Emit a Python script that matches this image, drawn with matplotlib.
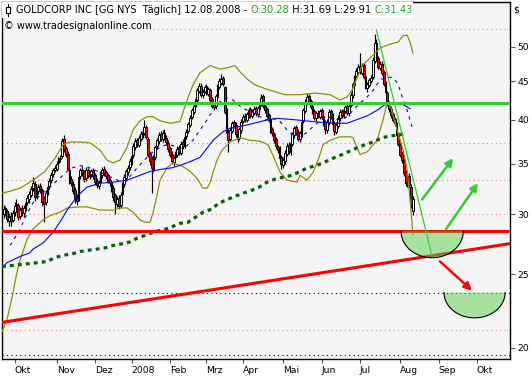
import numpy as np
import matplotlib
matplotlib.use('Agg')
import matplotlib.pyplot as plt
from matplotlib.patches import Rectangle
from matplotlib.ticker import NullLocator

plt.rcParams['font.family'] = ['DejaVu Sans']

# Tageskerzen GOLDCORP (GG), Index 0 = 01.10.2007 (Handelstage)
first_day = -6
opens = [30.0, 30.6, 30.3, 29.4, 29.9, 29.5,
         30.2, 30.7, 30.9, 29.9, 30.6, 30.1, 30.5, 31.2, 31.4, 31.8,
         32.5, 32.9, 31.7, 32.2, 32.7, 32.3, 31.4, 31.2, 32.1, 32.7,
         33.3, 33.9, 34.4, 34.5, 35.1, 35.6, 35.8, 37.7, 36.7, 36.1,
         34.3, 33.4, 32.9, 32.3, 31.6, 31.5, 33.7, 34.4, 34.1, 33.5,
         34.3, 33.7, 33.9, 34.3, 33.8, 33.2, 32.7, 33.1, 33.8, 34.5,
         34.1, 33.8, 33.3, 33.1, 32.5, 31.8, 31.0, 31.5, 30.9, 31.9,
         32.9, 33.5, 34.1, 34.7, 35.2, 35.9, 36.8, 37.6, 37.1, 37.8,
         38.2, 38.5, 39.1, 37.8, 36.1, 35.5, 34.4, 35.7, 36.9, 37.5,
         38.3, 37.7, 38.5, 37.9, 37.3, 36.7, 36.1, 35.2, 35.7, 36.0,
         36.8, 36.2, 37.4, 37.0, 38.1, 38.7, 39.4, 40.4, 41.0, 41.9,
         42.5, 43.7, 44.4, 43.1, 43.7, 44.3, 43.3, 43.8, 42.6, 42.0,
         41.7, 42.9, 44.2, 44.8, 45.4, 44.2, 41.2, 38.6, 37.8, 38.7,
         39.7, 39.4, 38.4, 37.9, 38.8, 39.9, 40.5, 40.0, 40.6, 41.3,
         40.5, 40.9, 41.5, 40.7, 41.4, 42.1, 43.0, 41.7, 41.3, 40.6,
         40.1, 38.9, 38.3, 37.7, 36.8, 36.6, 35.7, 34.9, 35.3, 36.1,
         37.1, 36.3, 37.2, 38.2, 39.1, 38.6, 37.7, 38.3, 39.9, 41.1,
         42.2, 43.0, 42.4, 41.7, 41.1, 40.2, 40.9, 40.4, 41.2, 40.5,
         39.7, 38.8, 39.7, 41.1, 40.5, 39.6, 38.6, 39.3, 40.2, 41.1,
         40.5, 41.1, 41.7, 40.8, 41.9, 43.1, 44.5, 45.7, 46.3, 47.1,
         46.2, 47.3, 45.7, 44.1, 44.5, 45.1, 45.6, 47.9, 50.6, 48.3,
         46.9, 47.5, 46.3, 44.7, 43.4, 42.1, 41.4, 40.7, 40.1, 39.5,
         38.3, 37.1, 36.1, 35.3, 34.1, 32.9, 33.7, 32.6, 30.28]
highs = [30.9, 30.8, 30.5, 30.1, 30.2, 30.4,
         31.2, 31.4, 31.1, 30.7, 30.9, 30.9, 31.4, 31.8, 32.2, 32.7,
         33.6, 33.2, 32.6, 32.9, 33.0, 32.5, 31.7, 32.3, 32.9, 33.5,
         34.1, 34.6, 34.9, 35.3, 35.7, 35.9, 37.9, 38.2, 37.0, 36.4,
         34.5, 33.7, 33.2, 32.6, 31.9, 33.8, 34.6, 34.8, 34.4, 34.7,
         34.6, 34.3, 34.5, 34.6, 34.0, 33.5, 33.3, 34.2, 34.7, 34.8,
         34.3, 34.0, 33.6, 33.3, 32.8, 32.0, 31.7, 31.8, 32.1, 33.1,
         33.9, 34.5, 34.9, 35.6, 36.1, 37.3, 37.9, 37.9, 38.2, 38.7,
         39.0, 40.0, 39.4, 38.0, 36.4, 35.8, 35.9, 37.1, 37.9, 38.6,
         38.7, 38.8, 38.9, 38.2, 37.6, 37.0, 36.4, 35.9, 36.4, 36.9,
         37.1, 37.5, 37.7, 38.3, 38.9, 39.8, 40.6, 41.5, 42.1, 42.9,
         44.1, 44.7, 44.8, 43.9, 44.5, 44.6, 44.2, 44.1, 42.9, 42.3,
         43.3, 44.6, 45.4, 46.0, 45.7, 44.4, 41.5, 38.9, 39.1, 39.9,
         40.0, 39.7, 38.7, 39.2, 40.1, 40.7, 40.8, 41.0, 41.5, 41.6,
         41.3, 41.7, 41.8, 41.8, 42.3, 43.3, 43.3, 42.0, 41.6, 40.9,
         40.3, 39.2, 38.6, 38.0, 37.1, 36.9, 36.0, 35.7, 36.5, 37.3,
         37.4, 37.6, 38.6, 39.3, 39.4, 38.9, 38.7, 40.1, 41.5, 42.6,
         43.4, 43.3, 42.7, 42.0, 41.4, 41.1, 41.2, 41.4, 41.5, 40.8,
         40.0, 40.1, 41.3, 41.4, 40.8, 39.9, 39.7, 40.6, 41.3, 41.4,
         41.5, 41.9, 42.0, 42.1, 43.5, 44.9, 45.9, 46.8, 47.4, 49.0,
         47.6, 47.6, 46.0, 44.9, 45.5, 45.8, 48.4, 52.0, 51.2, 48.6,
         47.8, 47.8, 46.6, 45.0, 43.7, 42.4, 41.7, 41.0, 40.4, 39.8,
         38.6, 37.4, 36.4, 35.6, 34.4, 33.9, 34.0, 32.9, 31.69]
lows = [29.7, 29.9, 29.3, 29.0, 29.0, 29.3,
        29.9, 30.4, 29.5, 29.6, 29.9, 29.8, 30.3, 30.9, 31.1, 31.6,
        32.2, 31.3, 31.4, 31.9, 32.0, 30.8, 29.3, 30.9, 31.8, 32.4,
        33.0, 33.6, 34.1, 34.2, 34.8, 35.2, 35.6, 36.3, 35.7, 34.3,
        32.9, 32.7, 31.9, 31.1, 30.9, 31.3, 33.4, 33.7, 33.1, 33.2,
        33.5, 33.4, 33.6, 33.4, 32.8, 32.5, 32.4, 32.9, 33.5, 33.7,
        33.4, 33.0, 32.7, 32.1, 31.3, 30.0, 30.7, 30.5, 30.6, 31.7,
        32.6, 33.2, 33.8, 34.4, 34.9, 35.6, 36.5, 36.8, 36.8, 37.5,
        37.9, 38.2, 37.7, 35.7, 34.9, 32.0, 34.1, 35.4, 36.6, 37.2,
        37.5, 37.4, 37.6, 37.1, 36.3, 35.7, 35.0, 34.8, 35.4, 35.7,
        36.0, 35.9, 36.6, 36.7, 37.8, 38.4, 39.1, 40.1, 40.7, 41.6,
        42.2, 43.4, 42.9, 42.8, 43.4, 43.1, 43.0, 42.2, 41.5, 41.2,
        41.4, 42.6, 43.9, 44.5, 44.3, 40.7, 38.2, 36.3, 37.5, 38.4,
        39.0, 38.0, 37.4, 37.6, 38.5, 39.6, 39.8, 39.7, 40.3, 40.3,
        40.2, 40.6, 40.5, 40.4, 41.1, 41.8, 41.5, 40.9, 40.2, 39.7,
        38.5, 38.1, 37.3, 36.6, 36.2, 35.3, 34.5, 34.6, 35.0, 35.8,
        36.1, 36.0, 36.9, 37.9, 38.2, 37.5, 37.4, 38.0, 39.6, 40.8,
        41.9, 42.0, 41.3, 40.7, 40.0, 39.9, 40.2, 40.1, 40.1, 39.3,
        38.3, 38.5, 39.4, 40.1, 39.2, 38.2, 38.3, 39.0, 39.9, 40.3,
        40.2, 40.8, 40.6, 40.5, 41.6, 42.8, 44.2, 45.4, 46.0, 46.0,
        45.9, 45.3, 43.9, 43.6, 44.2, 44.8, 45.3, 47.6, 47.9, 46.7,
        46.6, 45.9, 44.3, 43.2, 41.7, 41.0, 40.3, 39.7, 39.3, 37.9,
        36.9, 35.7, 35.1, 33.7, 32.7, 32.6, 32.5, 30.6, 29.91]
closes = [30.5, 30.2, 29.6, 29.8, 29.4, 30.1,
          30.8, 31.0, 29.8, 30.4, 30.2, 30.6, 31.1, 31.5, 31.9, 32.4,
          33.0, 31.6, 32.3, 32.6, 32.4, 31.2, 31.0, 32.0, 32.6, 33.2,
          33.8, 34.3, 34.6, 35.0, 35.4, 35.5, 37.5, 36.6, 36.0, 34.5,
          33.2, 33.0, 32.2, 31.5, 31.3, 33.6, 34.3, 34.0, 33.4, 34.4,
          33.8, 34.0, 34.2, 33.7, 33.1, 32.8, 33.0, 33.9, 34.4, 34.0,
          33.7, 33.2, 33.0, 32.4, 31.6, 31.2, 31.4, 30.8, 31.8, 32.8,
          33.6, 34.2, 34.6, 35.3, 35.8, 37.0, 37.5, 37.2, 37.9, 38.3,
          38.6, 39.2, 38.0, 36.0, 35.3, 34.6, 35.6, 36.8, 37.6, 38.2,
          37.8, 38.4, 37.9, 37.4, 36.6, 36.0, 35.3, 35.6, 36.1, 36.6,
          36.3, 37.2, 36.9, 38.0, 38.6, 39.5, 40.3, 41.2, 41.8, 42.6,
          43.8, 44.3, 43.2, 43.6, 44.2, 43.4, 43.9, 42.5, 41.8, 41.6,
          43.0, 44.3, 45.0, 45.3, 44.6, 41.0, 38.5, 37.6, 38.8, 39.6,
          39.3, 38.3, 37.8, 38.9, 39.8, 40.4, 40.1, 40.7, 41.2, 40.6,
          41.0, 41.4, 40.8, 41.5, 42.0, 42.8, 41.8, 41.2, 40.5, 40.0,
          38.8, 38.4, 37.6, 36.9, 36.5, 35.6, 35.0, 35.4, 36.2, 37.0,
          36.4, 37.3, 38.3, 39.0, 38.5, 37.8, 38.4, 39.8, 41.2, 42.3,
          42.9, 42.3, 41.6, 41.0, 40.3, 40.8, 40.5, 41.1, 40.4, 39.6,
          38.9, 39.8, 41.0, 40.4, 39.5, 38.7, 39.4, 40.3, 41.0, 40.6,
          41.2, 41.6, 40.9, 41.8, 43.2, 44.6, 45.6, 46.4, 47.0, 46.3,
          47.2, 45.6, 44.2, 44.6, 45.2, 45.5, 48.0, 50.5, 48.2, 47.0,
          47.4, 46.2, 44.6, 43.5, 42.0, 41.3, 40.6, 40.0, 39.6, 38.2,
          37.2, 36.0, 35.4, 34.0, 33.0, 33.6, 32.8, 30.9, 31.43]

# Bollinger-Baender (oben / unten)
bb_up_x = [-6.9, -2.5, 3.0, 10.1, 16.6, 22.1, 26.5, 30.3, 35.8, 41.3, 46.7, 50.6,
           53.9, 57.7, 61.5, 64.8, 68.6, 72.5, 75.8, 79.6, 85.1, 90.5, 94.4, 97.6,
           101.5, 106.9, 112.4, 116.8, 120.6, 123.4, 127.8, 131.6, 137.1, 142.5,
           148.0, 156.2, 164.4, 172.6, 178.1, 181.9, 184.7, 187.4, 190.2, 194.5,
           200.0, 205.5, 209.9, 212.6, 214.8, 216.4, 218.0]
bb_up_v = [32.0, 32.2, 32.5, 33.3, 34.2, 35.6, 37.1, 37.4, 37.4, 37.3, 36.5, 35.4,
           35.1, 35.4, 36.8, 38.8, 39.9, 40.4, 40.4, 39.9, 39.6, 39.8, 42.5, 44.5,
           46.2, 47.2, 46.7, 46.9, 47.2, 46.3, 45.2, 44.5, 44.0, 43.6,
           43.2, 43.2, 43.4, 43.2, 42.5, 42.9, 43.8, 45.5, 47.2, 48.3,
           49.8, 50.4, 50.7, 51.7, 51.8, 50.7, 49.05]
bb_lo_x = [-6.9, -4.2, -0.9, 1.3, 3.0, 6.8, 10.1, 15.5, 19.4, 24.8, 28.7, 35.8,
           39.6, 46.7, 53.9, 57.7, 61.5, 64.8, 68.6, 71.4, 74.2, 75.8, 77.9, 79.6,
           83.4, 86.7, 92.2, 96.0, 99.8, 103.1, 105.3, 106.9, 108.6, 110.8, 113.5,
           117.9, 123.4, 128.8, 134.3, 138.7, 142.5, 145.3, 149.1, 154.6, 156.2,
           160.0, 163.3, 166.1, 168.8, 172.6, 178.1, 183.6, 185.2, 189.0, 192.9,
           198.4, 201.6, 203.8, 205.5, 209.3, 212.6, 214.8, 216.4, 218.0]
bb_lo_v = [21.0, 21.75, 23.6, 25.2, 26.1, 27.8, 28.7, 29.5, 29.9, 30.2, 30.6, 30.7,
           30.7, 30.4, 30.4, 30.6, 30.6, 30.2, 29.5, 29.3, 29.3, 30.2, 31.8, 33.3,
           34.6, 35.1, 34.7, 34.2, 33.5, 32.5, 32.5, 33.0, 34.1, 35.4, 36.5,
           37.4, 37.9, 37.6, 37.5, 37.1, 35.4, 34.1, 33.3, 33.1, 33.8,
           33.3, 34.1, 35.4, 37.1, 37.6, 38.0, 38.0, 37.9, 36.0, 36.3,
           37.6, 40.0, 42.1, 41.9, 38.8, 36.5, 34.4, 31.4, 28.2]

# gleitende Durchschnitte
ma50_x = [-6.9, -4.2, 3.0, 8.4, 10.1, 15.5, 21.0, 24.8, 28.7, 34.2, 39.6, 46.7,
          53.9, 61.5, 68.6, 74.2, 79.6, 86.7, 94.4, 101.5, 108.6, 114.1, 117.9,
          127.2, 138.2, 143.6, 154.6, 163.3, 174.3, 181.9, 192.9, 198.4, 203.8,
          209.3, 212.6, 216.4]
ma50_v = [25.5, 25.9, 26.4, 26.7, 27.0, 27.5, 28.4, 29.3, 30.4, 31.7, 32.6, 33.0,
          33.1, 33.3, 33.8, 34.2, 34.4, 34.6, 35.1, 35.7, 37.6, 38.6, 39.0,
          39.4, 40.0, 40.2, 40.0, 39.8, 39.6, 39.6, 40.5, 41.2, 42.1,
          42.1, 41.9, 41.4]
ma20_x = [-2.5, 0.2, 3.0, 6.8, 10.1, 13.9, 17.7, 21.0, 24.8, 28.7, 32.0, 35.8,
          39.6, 42.9, 46.7, 50.6, 53.9, 57.7, 61.5, 64.8, 68.6, 72.5, 75.8, 79.6,
          83.4, 86.7, 90.5, 94.4, 97.6, 101.5, 105.3, 108.6, 112.4, 116.3, 119.5,
          123.4, 127.2, 130.5, 134.3, 138.2, 141.4, 145.3, 149.1, 152.4, 156.2,
          160.0, 163.3, 167.2, 171.0, 174.3, 178.1, 181.9, 185.2, 189.0, 192.9,
          196.2, 200.0, 203.8, 207.1, 209.3, 211.0, 212.6, 214.8, 216.4, 218.0]
ma20_v = [27.3, 27.95, 28.7, 30.1, 31.1, 31.8, 32.3, 32.9, 33.5, 34.2, 34.6, 34.8,
          34.7, 34.4, 34.1, 33.8, 33.5, 33.2, 33.3, 34.1, 34.9, 35.7, 36.3, 36.8,
          37.1, 37.0, 36.7, 37.0, 37.6, 38.8, 40.0, 41.2, 42.3, 42.8, 42.5,
          41.7, 41.2, 40.9, 40.4, 40.0, 40.2, 39.8, 38.8, 38.2, 38.0,
          38.5, 39.2, 39.9, 40.4, 40.2, 40.0, 40.4, 41.2, 42.1, 42.9,
          43.8, 45.2, 45.6, 45.5, 44.8, 43.8, 42.5, 41.2, 40.0, 38.8]
ma200_x = [-6.9, 3.0, 12.3, 17.7, 22.1, 26.5, 31.4, 35.8, 40.2, 45.1, 49.5, 53.9,
           59.3, 63.2, 67.6, 72.5, 76.8, 81.2, 86.1, 90.5, 94.9, 103.1, 108.0,
           111.3, 116.3, 120.6, 125.0, 129.9, 133.8, 138.2, 142.5, 146.9, 151.8,
           156.2, 160.6, 165.0, 169.9, 174.3, 179.2, 183.6, 188.0, 191.8, 196.2,
           201.1, 205.5, 209.9, 214.8]
ma200_v = [25.6, 25.75, 25.9, 26.0, 26.3, 26.5, 26.6, 26.8, 26.9, 27.0, 27.1, 27.3,
           27.45, 27.6, 27.95, 28.2, 28.5, 28.6, 28.9, 29.2, 29.3, 30.2, 30.5,
           31.0, 31.4, 31.7, 32.0, 32.3, 32.6, 33.1, 33.4, 33.6, 33.8,
           34.2, 34.6, 34.8, 35.2, 35.6, 36.0, 36.4, 36.8, 37.1, 37.4,
           37.9, 38.1, 38.2, 38.4]

# Zeichnungen im Chart
green_level = 42.15
red_level = 28.5
pink_levels = [52.7, 37.25, 33.3, 30.0, 21.1]
black_levels = [23.65, 19.55]
trend_x = [-6.9, 271.1]
trend_v = [21.6, 27.45]
fall_x = [198.0, 228.5]
fall_v = [52.6, 26.4]
arrows_up = [((223.0, 31.4), (240.0, 35.6)), ((236.1, 28.7), (253.6, 33.0))]
arrow_down = ((232.8, 26.0), (250.3, 23.8))
bowls = [(228.5, 17.0, 28.5, 26.3), (251.7, 16.7, 23.65, 21.9)]  # mitte, halbe breite, oben, unten

month_pos = [0, 23, 44, 64, 85, 105, 125, 147, 168, 189, 211, 232, 253]
month_lbl = ['Okt', 'Nov', 'Dez', '2008', 'Feb', 'Mrz', 'Apr', 'Mai', 'Jun',
             'Jul', 'Aug', 'Sep', 'Okt']
price_ticks = [20, 25, 30, 35, 40, 45, 50]

W, H = 532, 380
fs = 6.7
fig = plt.figure(figsize=(W / 100, H / 100), dpi=100)
fig.patch.set_facecolor('white')
ax = fig.add_axes([2 / W, (H - 359) / H, 508 / W, 357.5 / H])
ax.set_facecolor('#f5f5f5')
ax.set_yscale('log')
ax.set_xlim(-6.9, 271.1)
ax.set_ylim(19.32, 57.37)

# Hilfslinien
for lv in pink_levels:
    ax.axhline(lv, color='#ee8080', lw=0.8, ls=(0, (1, 3)), zorder=1)
for lv in black_levels:
    ax.axhline(lv, color='black', lw=0.8, ls=(0, (1, 3)), zorder=1)

# Kerzen
o = np.array(opens)
hi = np.array(highs)
lo = np.array(lows)
c = np.array(closes)
days = np.arange(first_day, first_day + len(c))
up = c >= o
ax.vlines(days, lo, hi, color='black', lw=0.85, zorder=2)
ax.bar(days, np.abs(c - o), bottom=np.minimum(o, c), width=1.0,
       color=np.where(up, 'white', '#ff0000'), edgecolor='black', linewidth=0.7, zorder=2.1)

# Indikatoren
ax.plot(bb_up_x, bb_up_v, color='#8f8f00', lw=0.9, zorder=3)
ax.plot(bb_lo_x, bb_lo_v, color='#8f8f00', lw=0.9, zorder=3)
ax.plot(ma50_x, ma50_v, color='#0000ff', lw=0.8, zorder=3)
ax.plot(ma20_x, ma20_v, color='#0000ff', lw=0.8, ls=(0, (3, 4)), zorder=3)
ax.plot(ma200_x, ma200_v, color='#006400', lw=2.3, ls=(0, (1.2, 1.3)), zorder=3)

# Linien
ax.axhline(green_level, color='#33cc33', lw=2.2, zorder=4)
ax.axhline(red_level, color='#ff0000', lw=2.2, zorder=4)
ax.plot(trend_x, trend_v, color='#ff0000', lw=2.2, zorder=4)
ax.plot(fall_x, fall_v, color='#33cc33', lw=0.9, zorder=4)

for tail, tip in arrows_up:
    ax.annotate('', xy=tip, xytext=tail, zorder=5,
                arrowprops=dict(arrowstyle='-|>', color='#33cc33', lw=1.8,
                                mutation_scale=11, shrinkA=0, shrinkB=0))
ax.annotate('', xy=arrow_down[1], xytext=arrow_down[0], zorder=5,
            arrowprops=dict(arrowstyle='-|>', color='#ff0000', lw=1.8,
                            mutation_scale=11, shrinkA=0, shrinkB=0))

t = np.linspace(0, np.pi, 80)
for cx, hw, top, bot in bowls:
    xs = cx + hw * np.cos(t)
    ys = np.exp(np.log(top) - (np.log(top) - np.log(bot)) * np.sin(t))
    ax.fill(xs, ys, color='#57d14b', alpha=0.5, lw=0, zorder=6)
    ax.plot(xs, ys, color='black', lw=0.8, zorder=7)

# Achsen
for s in ax.spines.values():
    s.set_color('black')
    s.set_linewidth(1.0)
ax.yaxis.tick_right()
ax.set_yticks(price_ticks)
ax.set_yticklabels([str(p) for p in price_ticks])
ax.yaxis.set_minor_locator(NullLocator())
ax.set_xticks(month_pos)
ax.set_xticklabels(month_lbl, ha='left')
ax.tick_params(axis='y', direction='out', length=3.5, width=0.8, color='#555555',
               pad=2, labelsize=fs)
ax.tick_params(axis='x', direction='out', length=3, width=0.8, color='#555555',
               pad=2, labelsize=fs)

# Kopfzeile
def fx(px):
    return px / W

def fy(py):
    return 1 - py / H

fig.add_artist(Rectangle((fx(2), fy(18)), fx(411), 16 / H, transform=fig.transFigure,
                         facecolor='white', edgecolor='none', zorder=10))
fig.add_artist(plt.Line2D([fx(8), fx(8)], [fy(4), fy(16)], transform=fig.transFigure,
                          color='black', lw=0.8, zorder=11))
fig.add_artist(Rectangle((fx(6), fy(13)), 4 / W, 6 / H, transform=fig.transFigure,
                         facecolor='white', edgecolor='black', lw=0.8, zorder=12))

renderer = fig.canvas.get_renderer()
pieces = [('GOLDCORP INC [GG NYS  Täglich] 12.08.2008 - ', 'black'),
          ('O:30.28', '#16a816'),
          (' H:31.69 L:29.91 ', 'black'),
          ('C:31.43', '#16a816')]
xpos = 16
for txt, col in pieces:
    tt = fig.text(fx(xpos), fy(10), txt, color=col, fontsize=7.1, va='center',
                  ha='left', zorder=13)
    xpos += tt.get_window_extent(renderer).width

fig.text(fx(4), fy(26), '© www.tradesignalonline.com', fontsize=7.0, va='center',
         ha='left', zorder=13,
         bbox=dict(facecolor='#f5f5f5', edgecolor='none', pad=0.3))
fig.text(fx(513), fy(10), '$', fontsize=fs, va='center', ha='left')

fig.savefig('out.png', dpi=100)
